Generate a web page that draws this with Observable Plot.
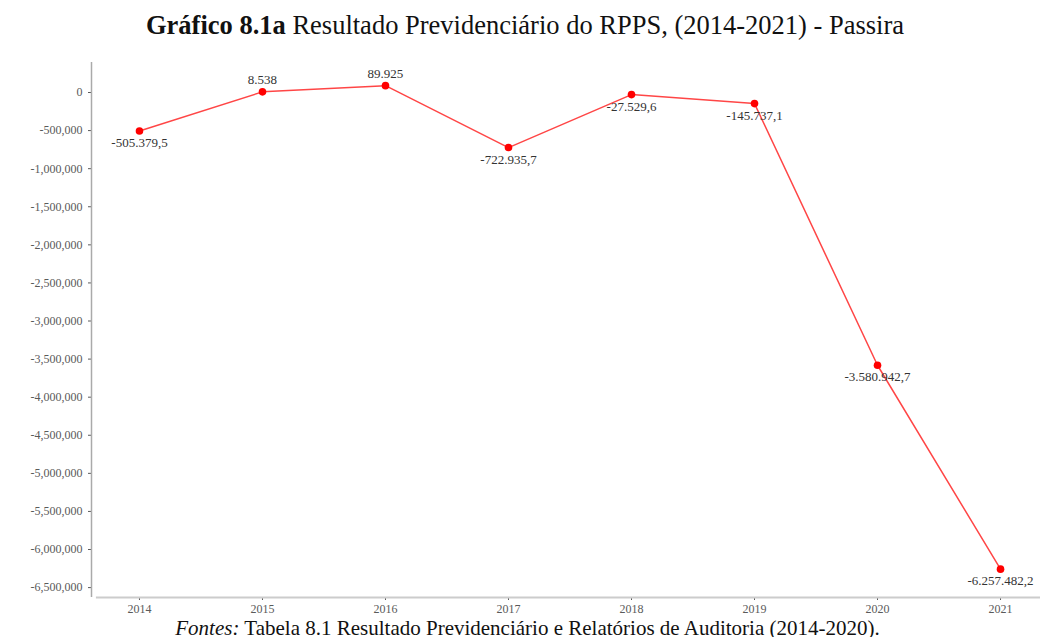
<!DOCTYPE html>
<html>
<head>
<meta charset="utf-8">
<script src="https://cdn.jsdelivr.net/npm/d3@7"></script>
<script src="https://cdn.jsdelivr.net/npm/@observablehq/plot@0.6"></script>
<style>
  body { margin: 0; background: #fff; font-family: "Liberation Serif", "Times New Roman", serif; }
  #title { height: 50px; line-height: 50px; text-align: center; font-size: 26.5px; color: #111; margin-left: 10px; }
  #caption { text-align: center; font-size: 21px; color: #111; line-height: 18px; margin-top: -1px; margin-left: 15px; }
  svg.plot { overflow: visible; }
</style>
</head>
<body>
<div id="title"><b>Gráfico 8.1a</b> Resultado Previdenciário do RPPS, (2014-2021) - Passira</div>
<div id="chart"></div>
<div id="caption"><i>Fontes:</i> Tabela 8.1 Resultado Previdenciário e Relatórios de Auditoria (2014-2020).</div>
<script>
const years = [2014, 2015, 2016, 2017, 2018, 2019, 2020, 2021];
const values = [-505379.5, 8538, 89925, -722935.7, -27529.6, -145737.1, -3580942.7, -6257482.2];
const labelAbove = [false, true, true, false, false, false, false, false];
const yTicks = [0, -500000, -1000000, -1500000, -2000000, -2500000, -3000000, -3500000, -4000000, -4500000, -5000000, -5500000, -6000000, -6500000];

const data = years.map((y, i) => ({year: y, value: values[i], above: labelAbove[i]}));
const br = d3.formatLocale({decimal: ",", thousands: ".", grouping: [3], currency: ["R$", ""], minus: "-"});
const fmtLabel = br.format(",.1~f");
const fmtTick = d => d.toLocaleString("en-US");

const xDomain = [2013.61, 2021.325];
const yDomain = [-6630000, 394000];

const chart = Plot.plot({
  width: 1040,
  height: 570,
  marginTop: 12,
  marginBottom: 23,
  marginLeft: 91,
  marginRight: 0,
  style: {fontFamily: "'Liberation Serif', 'Times New Roman', serif", background: "#fff", overflow: "visible"},
  x: {domain: xDomain, label: null},
  y: {domain: yDomain, label: null},
  marks: [
    Plot.axisY({ticks: yTicks, tickFormat: fmtTick, tickSize: 3, tickPadding: 6, fontSize: 12, color: "#5a5a5a", label: null}),
    Plot.axisX({ticks: years, tickFormat: d => String(d), tickSize: 3, tickPadding: 4, fontSize: 12, color: "#5a5a5a", label: null}),
    Plot.ruleX([xDomain[0]], {stroke: "#aaa", strokeWidth: 1.5}),
    Plot.ruleY([yDomain[0]], {stroke: "#ccc", strokeWidth: 2, x1: xDomain[0] + 0.04, x2: xDomain[1]}),
    Plot.line(data, {x: "year", y: "value", stroke: "#ff4646", strokeWidth: 1.5}),
    Plot.dot(data, {x: "year", y: "value", fill: "#f00", r: 3.8}),
    Plot.text(data.filter(d => d.above), {x: "year", y: "value", text: d => fmtLabel(d.value), dy: -12, fontSize: 13, fill: "#333"}),
    Plot.text(data.filter(d => !d.above), {x: "year", y: "value", text: d => fmtLabel(d.value), dy: 12, fontSize: 13, fill: "#333"})
  ]
});
document.getElementById("chart").appendChild(chart);
</script>
</body>
</html>
